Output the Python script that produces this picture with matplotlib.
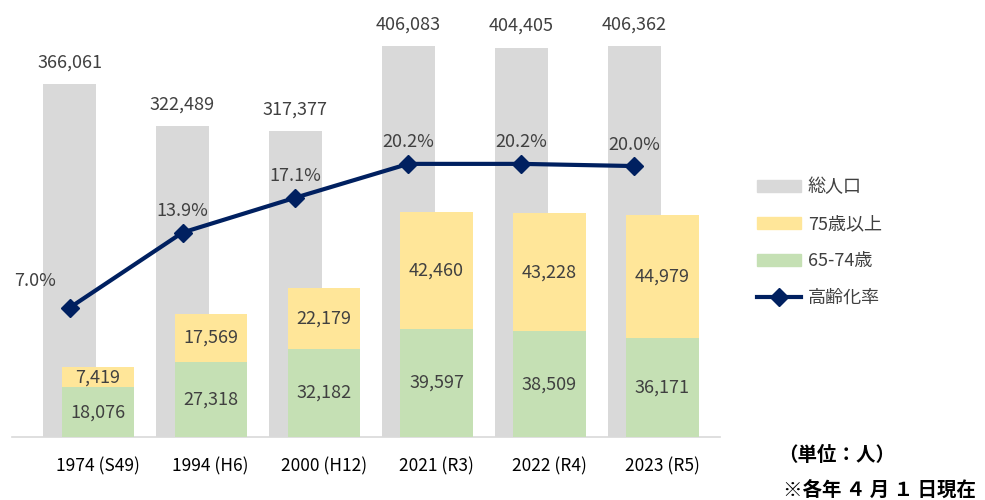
import numpy as np
import matplotlib
matplotlib.use("Agg")
import matplotlib.pyplot as plt
from matplotlib.patches import Patch
from matplotlib.lines import Line2D

plt.rcParams['font.family'] = ['Noto Sans CJK JP', 'DejaVu Sans']

# data
years = ['1974 (S49)', '1994 (H6)', '2000 (H12)', '2021 (R3)', '2022 (R4)', '2023 (R5)']
total = [366061, 322489, 317377, 406083, 404405, 406362]
age_65_74 = [18076, 27318, 32182, 39597, 38509, 36171]
age_75_over = [7419, 17569, 22179, 42460, 43228, 44979]
aging_rate = [7.0, 13.9, 17.1, 20.2, 20.2, 20.0]

GRAY = '#D9D9D9'
YELLOW = '#FFE699'
GREEN = '#C5E0B4'
NAVY = '#002060'
TXT = '#404040'

fig = plt.figure(figsize=(9.85, 5.0), dpi=100)
ax = fig.add_axes([12 / 985, 1 - 437 / 500, 708 / 985, 427 / 500])
ax2 = ax.twinx()
ax3 = ax.twinx()

x = np.arange(len(years))

# total population (primary)
ax.bar(x, total, width=0.47, color=GRAY, zorder=1)
ax.set_ylim(0, 427 / 0.963 * 1000)
for xi, v in zip(x, total):
    ax.annotate(f'{v:,}', (xi, v), xytext=(0, 9), textcoords='offset points',
                ha='center', va='bottom', fontsize=13, color=TXT)

# stacked elderly (secondary)
xs = x + 0.25
ax2.bar(xs, age_65_74, width=0.64, color=GREEN, zorder=2)
ax2.bar(xs, age_75_over, width=0.64, bottom=age_65_74, color=YELLOW, zorder=2)
ax2.set_ylim(0, 427 / 2.74 * 1000)
for xi, g, yv in zip(xs, age_65_74, age_75_over):
    ax2.text(xi, g / 2, f'{g:,}', ha='center', va='center', fontsize=13, color=TXT)
    ax2.text(xi, g + yv / 2, f'{yv:,}', ha='center', va='center', fontsize=13, color=TXT)

# aging rate line (third axis)
ax3.plot(x, aging_rate, color=NAVY, linewidth=3, marker='D', markersize=9,
         zorder=5)
ax3.set_ylim(-53 / 10.91, (384.4 - 10) / 10.91)
for i, (xi, r) in enumerate(zip(x, aging_rate)):
    off = (-25, 13) if i == 0 else (0, 9)
    ax3.annotate(f'{r:.1f}%', (xi, r), xytext=off, textcoords='offset points',
                 ha='center', va='bottom', fontsize=13, color=TXT)

for a in (ax, ax2, ax3):
    a.set_xlim(-0.51, 5.76)
    a.tick_params(left=False, right=False, labelleft=False, labelright=False,
                  bottom=False)
    for s in a.spines.values():
        s.set_visible(False)
ax.spines['bottom'].set_visible(True)
ax.spines['bottom'].set_color('#D9D9D9')
ax.spines['bottom'].set_linewidth(1.2)

ax.set_xticks(xs)
ax.set_xticklabels(years, fontsize=12.5, color='black')
ax.tick_params(axis='x', pad=11)

handles = [Patch(color=GRAY), Patch(color=YELLOW), Patch(color=GREEN),
           Line2D([], [], color=NAVY, linewidth=3, marker='D', markersize=9)]
labels = ['総人口', '75歳以上', '65-74歳', '高齢化率']
fig.legend(handles, labels, loc='upper left', bbox_to_anchor=(741 / 985, 1 - 162 / 500),
           frameon=False, fontsize=13, labelspacing=1.05, handlelength=2.4,
           handleheight=0.65, handletextpad=0.4, labelcolor=TXT)

fig.text(778 / 985, 1 - 455 / 500, '（単位：人）', fontsize=14, fontweight='bold',
         va='center', ha='left', color='black')
fig.text(783 / 985, 1 - 490 / 500, '※各年 ４ 月 １ 日現在', fontsize=14, fontweight='bold',
         va='center', ha='left', color='black')

fig.savefig('out.png', dpi=100)
